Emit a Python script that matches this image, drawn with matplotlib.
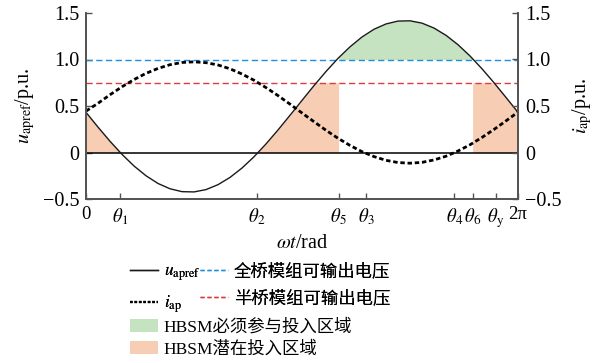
import numpy as np
import matplotlib
matplotlib.use('Agg')
import matplotlib.pyplot as plt
from matplotlib.lines import Line2D
from matplotlib.patches import Patch

# ---------------- data ----------------
angle_deg = np.arange(0, 361, 10)
u_apref = [0.432, 0.273, 0.121, -0.020, -0.145, -0.250, -0.333, -0.390, -0.421, -0.424,
           -0.399, -0.346, -0.268, -0.167, -0.046, 0.092, 0.242, 0.400, 0.560, 0.719,
           0.871, 1.012, 1.136, 1.242, 1.325, 1.382, 1.413, 1.416, 1.391, 1.338,
           1.260, 1.159, 1.038, 0.900, 0.750, 0.592, 0.432]
i_ap = [0.445, 0.529, 0.621, 0.707, 0.784, 0.851, 0.904, 0.944, 0.968, 0.975,
        0.966, 0.941, 0.900, 0.844, 0.777, 0.698, 0.612, 0.520, 0.425, 0.331,
        0.239, 0.153, 0.076, 0.009, -0.044, -0.084, -0.108, -0.115, -0.106, -0.080,
        -0.040, 0.016, 0.083, 0.162, 0.248, 0.340, 0.435]
full_bridge_level = 1.0
half_bridge_level = 0.75

theta_names = ['0', r'$\theta_1$', r'$\theta_2$', r'$\theta_5$', r'$\theta_3$',
               r'$\theta_4$', r'$\theta_6$', r'$\theta_{\mathrm{y}}$', '2π']
theta_vals = [0.0, 0.495, 2.485, 3.675, 4.071, 5.357, 5.623, 5.958, 2 * np.pi]
y_ticks = [-0.5, 0, 0.5, 1.0, 1.5]
y_tick_labels = ['−0.5', '0', '0.5', '1.0', '1.5']

legend_labels = [r'$u_{\mathrm{apref}}$', r'$i_{\mathrm{ap}}$',
                 '全桥模组可输出电压', '半桥模组可输出电压',
                 'HBSM必须参与投入区域', 'HBSM潜在投入区域']

# ---------------- style ----------------
plt.rcParams['font.family'] = ['Liberation Serif', 'Noto Sans CJK SC', 'DejaVu Sans']
plt.rcParams['mathtext.fontset'] = 'stix'
FS = 14.5
XFS = 13.5
LFS = 12.5
c_orange = '#F7CDB4'
c_green = '#C5E3C0'
c_blue = '#1F8FE0'
c_red = '#E03A3A'
spine_c = '#555555'

x = np.deg2rad(angle_deg)
u = np.array(u_apref)
i = np.array(i_ap)

fig = plt.figure(figsize=(6.07, 3.63), dpi=100)
ax = fig.add_axes([86 / 607, 1 - 199 / 363, 432 / 607, 186 / 363])

# fills
xd = np.linspace(0, 2 * np.pi, 4000)
ud = np.interp(xd, x, u)
th = dict(zip(['0', 't1', 't2', 't5', 't3', 't4', 't6', 'ty', '2pi'], theta_vals))
orange_top = np.clip(ud, 0, half_bridge_level)
m1 = xd <= th['t1']
m2 = (xd >= th['t2']) & (xd <= th['t5'])
m3 = xd >= th['t6']
for m in (m1, m2, m3):
    ax.fill_between(xd, 0, orange_top, where=m, color=c_orange, lw=0, zorder=1)
mg = (xd >= th['t5']) & (xd <= th['t6'])
ax.fill_between(xd, full_bridge_level, np.maximum(ud, full_bridge_level), where=mg,
                color=c_green, lw=0, zorder=1)

# lines
ax.axhline(0, color='black', lw=1.1, zorder=2)
ax.axhline(full_bridge_level, color=c_blue, lw=1.0, ls=(0, (4.5, 2.5)), zorder=2)
ax.axhline(half_bridge_level, color=c_red, lw=1.0, ls=(0, (4.5, 2.5)), zorder=2)
ax.plot(x, u, color='#1a1a1a', lw=1.0, zorder=3)
ax.plot(x, i, color='black', lw=2.0, ls=(0, (1.6, 1.0)), zorder=3)

ax.set_xlim(0, 2 * np.pi)
ax.set_ylim(-0.5, 1.5)
ax.set_xticks(theta_vals)
ax.set_xticklabels(theta_names, fontsize=XFS)
ax.set_yticks(y_ticks)
ax.set_yticklabels(y_tick_labels, fontsize=FS)
ax.tick_params(direction='in', length=4, width=1.0, color=spine_c, pad=5)
ax.spines['top'].set_visible(False)
for s in ('left', 'right', 'bottom'):
    ax.spines[s].set_color(spine_c)
    ax.spines[s].set_linewidth(1.3)
ax.set_ylabel(r'$u_{\mathrm{apref}}$/p.u.', fontsize=FS, labelpad=4)
ax.set_xlabel(r'$\omega t$/rad', fontsize=FS, labelpad=3)

ax2 = ax.twinx()
ax2.set_ylim(-0.5, 1.5)
ax2.set_yticks(y_ticks)
ax2.set_yticklabels(y_tick_labels, fontsize=FS)
ax2.tick_params(direction='in', length=4, width=1.0, color=spine_c, pad=5)
ax2.spines['top'].set_visible(False)
for s in ('left', 'right', 'bottom'):
    ax2.spines[s].set_color(spine_c)
    ax2.spines[s].set_linewidth(1.3)
ax2.set_ylabel(r'$i_{\mathrm{ap}}$/p.u.', fontsize=FS, labelpad=6)

# legends
h_lines = [Line2D([], [], color='#1a1a1a', lw=1.0),
           Line2D([], [], color='black', lw=1.6, ls=(0, (1.2, 0.8))),
           Line2D([], [], color=c_blue, lw=1.0, ls=(0, (3, 2))),
           Line2D([], [], color=c_red, lw=1.0, ls=(0, (3, 2)))]
leg1 = fig.legend(h_lines, legend_labels[:4], ncol=2, frameon=False, fontsize=LFS,
                  loc='upper left', bbox_to_anchor=(130 / 607, 1 - 263 / 363),
                  handlelength=1.6, handletextpad=0.35, columnspacing=0.0,
                  labelspacing=0.6, borderpad=0, borderaxespad=0)
h_patches = [Patch(facecolor=c_green, edgecolor='none'),
             Patch(facecolor=c_orange, edgecolor='none')]
leg2 = fig.legend(h_patches, legend_labels[4:], frameon=False, fontsize=LFS,
                  loc='upper left', bbox_to_anchor=(130 / 607, 1 - 319 / 363),
                  handlelength=1.6, handleheight=0.8, handletextpad=0.35,
                  labelspacing=0.3, borderpad=0, borderaxespad=0)
fig.add_artist(leg1)

fig.savefig('out.png', dpi=100)
